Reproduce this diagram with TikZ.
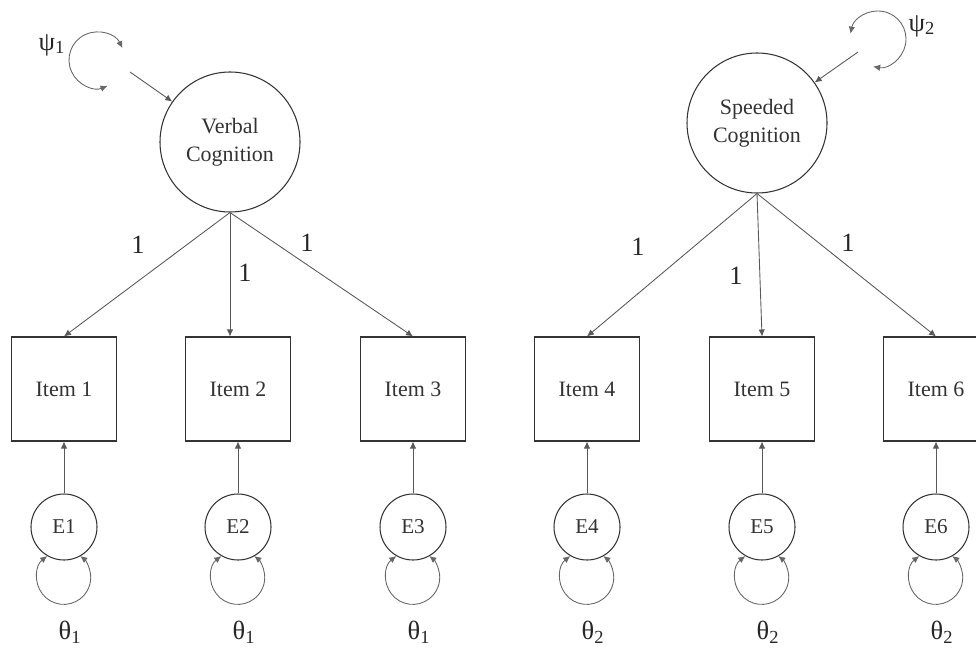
\documentclass[tikz,border=0pt]{standalone}
\usepackage{fontspec}
\setmainfont{Liberation Serif}
\usetikzlibrary{arrows.meta}

\begin{document}
\begin{tikzpicture}[x=0.2mm,y=0.2mm,
	latent/.style={draw=black!80,line width=0.6pt,circle,minimum size=28mm,inner sep=0pt,align=center,text=black!80,font=\fontsize{12.5}{16}\selectfont},
	item/.style={draw=black!80,line width=0.6pt,rectangle,minimum width=21mm,minimum height=20.8mm,inner sep=0pt,text=black!80,font=\fontsize{12.5}{15}\selectfont},
	err/.style={draw=black!80,line width=0.6pt,circle,minimum size=13.2mm,inner sep=0pt,text=black!80,font=\fontsize{12}{14}\selectfont},
	arr/.style={draw=black!65,line width=0.5pt,-{Latex[length=1.4mm,width=1.3mm]}},
	var/.style={draw=black!60,line width=0.5pt,{Latex[length=1.4mm,width=1.3mm]}-{Latex[length=1.4mm,width=1.3mm]}},
	load/.style={inner sep=0pt,text=black!85,font=\fontsize{15}{15}\selectfont},
	lab/.style={inner sep=0pt,text=black!85,font=\fontsize{15}{15}\selectfont}]
	\useasboundingbox (0,0) rectangle (976,-649);
	\node[latent] (verbal) at (230,-142) {Verbal\\Cognition};
	\node[latent] (speeded) at (757,-123) {Speeded\\Cognition};
	\foreach \i/\x in {1/64,2/238,3/413,4/587,5/762,6/936} {
		\node[item] (item\i) at (\x,-389) {Item \i};
		\node[err] (e\i) at (\x,-527) {E\i};
		\draw[arr] (e\i) -- (item\i);
		\draw[var] (e\i.-120) arc[start angle=127.7,end angle=412.3,radius=27];
	}
	\foreach \i/\x/\k in {1/64/1,2/238/1,3/413/1,4/587/2,5/762/2,6/936/2}
		\node[lab] (theta\i) at (\x+6,-632) {θ\textsubscript{\k}};
	\node[lab] (psi1) at (52,-45) {ψ\textsubscript{1}};
	\node[lab] (psi2) at (922,-26) {ψ\textsubscript{2}};
	\coordinate (v1) at (97,-60);
	\coordinate (v2) at (878,-39);
	\draw[var] ([shift={(25:28)}]v1) arc[start angle=25,end angle=292,radius=28];
	\draw[var] ([shift={(169:28)}]v2) arc[start angle=169,end angle=-100,radius=28];
	\coordinate (d1) at (130,-72);
	\coordinate (d2) at (858,-52);
	\draw[arr] (d1) -- (verbal);
	\draw[arr] (d2) -- (speeded);
	\draw[arr] (verbal.south) -- (item1.north);
	\draw[arr] (verbal.south) -- (verbal.south |- item2.north);
	\draw[arr] (verbal.south) -- (item3.north);
	\draw[arr] (speeded.south) -- (item4.north);
	\draw[arr] (speeded.south) -- (item5.north);
	\draw[arr] (speeded.south) -- (item6.north);
	\node[load] (l1) at (138,-245) {1};
	\node[load] (l2) at (245,-273) {1};
	\node[load] (l3) at (307,-243) {1};
	\node[load] (l4) at (638,-247) {1};
	\node[load] (l5) at (736,-276) {1};
	\node[load] (l6) at (848,-243) {1};
\end{tikzpicture}
\end{document}
